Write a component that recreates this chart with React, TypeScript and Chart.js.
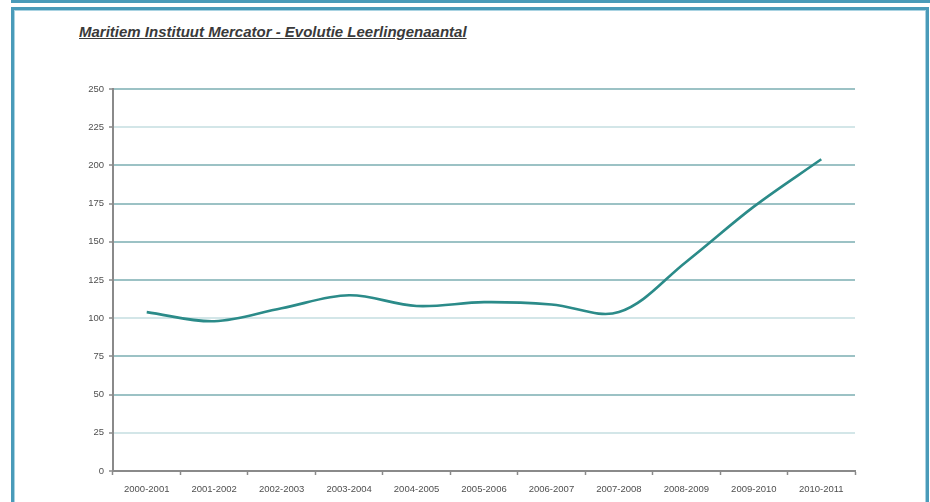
import React, { useEffect, useRef } from "react";
import { Chart, registerables } from "chart.js";

Chart.register(...registerables);

const TITLE = "Maritiem Instituut Mercator - Evolutie Leerlingenaantal";
const categories = [
  "2000-2001",
  "2001-2002",
  "2002-2003",
  "2003-2004",
  "2004-2005",
  "2005-2006",
  "2006-2007",
  "2007-2008",
  "2008-2009",
  "2009-2010",
  "2010-2011",
];
const students = [104, 98, 106.5, 115, 108, 110.5, 109, 104, 137, 173, 204];
const yMin = 0;
const yMax = 250;
const yStep = 25;
const lightGridValues = [25, 100, 225];

const AXIS_GREY = "#8a8a8a";
const LINE_TEAL = "#2b8b89";
const GRID_DARK = "#9cc2c5";
const GRID_LIGHT = "#d3e6e8";
const FRAME_BLUE = "#4a9bb9";

export default function App() {
  const ref = useRef<HTMLCanvasElement>(null);

  useEffect(() => {
    document.body.style.margin = "0";
    const canvas = ref.current;
    if (!canvas) return;
    const chart = new Chart(canvas, {
      type: "line",
      data: {
        labels: categories,
        datasets: [
          {
            data: students,
            borderColor: LINE_TEAL,
            borderWidth: 2.6,
            pointRadius: 0,
            tension: 0.35,
            fill: false,
          },
        ],
      },
      options: {
        animation: false,
        responsive: false,
        devicePixelRatio: 1,
        layout: { padding: { top: 89, right: 75, left: 0, bottom: 0 } },
        plugins: {
          legend: { display: false },
          tooltip: { enabled: false },
          title: { display: false },
        },
        scales: {
          x: {
            type: "category",
            offset: true,
            grid: {
              offset: true,
              drawOnChartArea: false,
              drawTicks: true,
              tickLength: 4,
              tickColor: AXIS_GREY,
              tickWidth: 1.5,
            },
            border: { color: AXIS_GREY, width: 2 },
            ticks: {
              color: "#4f4f4f",
              font: { family: "'Liberation Sans', sans-serif", size: 9.5 },
              padding: 9,
              maxRotation: 0,
              minRotation: 0,
              autoSkip: false,
            },
            afterFit: (s: any) => {
              s.height = 31;
            },
          },
          y: {
            min: yMin,
            max: yMax,
            ticks: {
              stepSize: yStep,
              color: "#4f4f4f",
              font: { family: "'Liberation Sans', sans-serif", size: 9.5 },
              padding: 5,
            },
            grid: {
              color: (ctx: any) => {
                const v = ctx.tick ? ctx.tick.value : 0;
                return lightGridValues.includes(v) ? GRID_LIGHT : GRID_DARK;
              },
              lineWidth: 2,
              tickColor: AXIS_GREY,
              tickLength: 4,
              tickWidth: 1.5,
            },
            border: { color: AXIS_GREY, width: 2 },
            afterFit: (s: any) => {
              s.width = 113;
            },
          },
        },
      },
    });
    return () => chart.destroy();
  }, []);

  return (
    <div
      style={{
        position: "relative",
        width: 930,
        height: 502,
        overflow: "hidden",
        background: "#ffffff",
      }}
    >
      <div
        style={{
          position: "absolute",
          left: 11,
          top: 0,
          width: 919,
          height: 3,
          background: FRAME_BLUE,
        }}
      />
      <div
        style={{
          position: "absolute",
          left: 11,
          top: 7,
          width: 912,
          height: 520,
          border: `3px solid ${FRAME_BLUE}`,
          boxShadow: "inset 1px 1px 0 #a9d3e2, inset -1px 0 0 #a9d3e2",
        }}
      />
      <div
        style={{
          position: "absolute",
          left: 79,
          top: 23,
          font: "italic bold 15px 'Liberation Sans', sans-serif",
          textDecoration: "underline",
          color: "#3a3a3a",
          whiteSpace: "nowrap",
        }}
      >
        {TITLE}
      </div>
      <canvas
        ref={ref}
        width={930}
        height={502}
        style={{ position: "absolute", left: 0, top: 0, width: 930, height: 502 }}
      />
    </div>
  );
}
